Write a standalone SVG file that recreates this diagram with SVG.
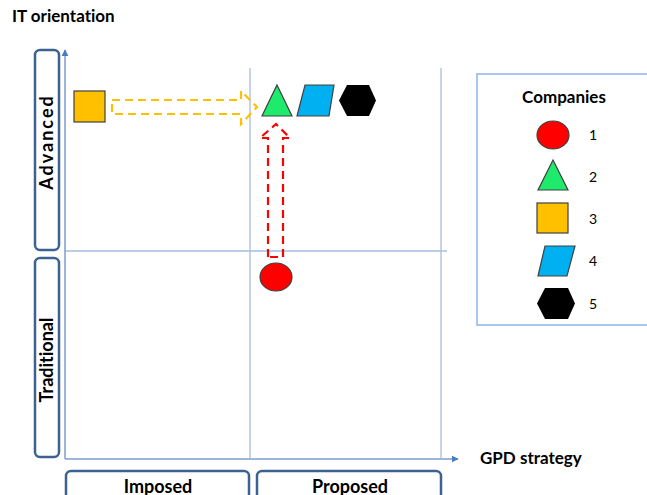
<svg xmlns="http://www.w3.org/2000/svg" width="647" height="495" viewBox="0 0 647 495">
  <style>
    text { font-family: Lato, "Open Sans", "Liberation Sans", sans-serif; fill: #000; font-variant-ligatures: none; }
    .title { font-size: 17px; font-weight: bold; }
    .cat { font-size: 18px; font-weight: bold; text-anchor: middle; }
    .num { font-size: 14px; }
    .catbox { fill: #fff; stroke: #3E6290; stroke-width: 2.5; }
    .axis { stroke: #7C9CCF; stroke-width: 1.5; fill: none; }
    .grid { stroke: #A9BCDD; stroke-width: 1.3; fill: none; }
    .shape { stroke: #404040; stroke-width: 1.2; }
  </style>
  <defs>
    <marker id="axisHead" viewBox="0 0 10 10" refX="9" refY="5" markerWidth="7" markerHeight="7" orient="auto" markerUnits="userSpaceOnUse">
      <path d="M0,0 L10,5 L0,10 Z" fill="#4A7CC4"/>
    </marker>
  </defs>

  <!-- quadrant grid -->
  <g id="grid">
    <line class="grid" x1="250" y1="68" x2="250" y2="458"/>
    <line class="grid" x1="441" y1="68" x2="441" y2="458"/>
    <line class="grid" x1="65" y1="251" x2="447" y2="251"/>
  </g>

  <!-- axes -->
  <g id="axes">
    <line class="axis" x1="65" y1="459" x2="65" y2="50" marker-end="url(#axisHead)"/>
    <line class="axis" x1="65" y1="459" x2="458" y2="459" marker-end="url(#axisHead)"/>
    <text class="title" x="12" y="22">IT orientation</text>
    <text class="title" x="480" y="464">GPD strategy</text>
  </g>

  <!-- category boxes -->
  <g id="cat-advanced">
    <rect class="catbox" x="35" y="50" width="24" height="200" rx="5"/>
    <text class="cat" letter-spacing="2" transform="translate(53,142) rotate(-90)">Advanced</text>
  </g>
  <g id="cat-traditional">
    <rect class="catbox" x="35" y="258" width="24" height="199" rx="5"/>
    <text class="cat" transform="translate(53,360) rotate(-90)">Traditional</text>
  </g>
  <g id="cat-imposed">
    <rect class="catbox" x="66" y="471" width="183" height="30" rx="5"/>
    <text class="cat" x="158" y="493">Imposed</text>
  </g>
  <g id="cat-proposed">
    <rect class="catbox" x="257" y="471" width="184" height="30" rx="5"/>
    <text class="cat" x="350" y="493">Proposed</text>
  </g>

  <!-- transitions -->
  <g id="connectors">
    <path d="M112,100 L241,100 L241,91 L257,107 L241,124 L241,114 L112,114 Z" fill="none" stroke="#FFC000" stroke-width="2.2" stroke-dasharray="8,5"/>
    <path d="M268,257 L268,138 L260,138 L276,124 L290,138 L283,138 L283,257 Z" fill="none" stroke="#FF0000" stroke-width="2.2" stroke-dasharray="8,5"/>
  </g>

  <!-- companies on the chart -->
  <g id="company-3">
    <rect class="shape" x="74" y="91" width="31" height="31" fill="#FFC000"/>
  </g>
  <g id="company-2">
    <polygon class="shape" points="277,85 292,116 262,116" fill="#1EEB6C"/>
  </g>
  <g id="company-4">
    <polygon class="shape" points="305,85 334,85 329,116 297,116" fill="#00B0F0"/>
  </g>
  <g id="company-5">
    <polygon points="347,85 369,85 376,100.5 369,116 347,116 339,100.5" fill="#000"/>
  </g>
  <g id="company-1">
    <ellipse class="shape" cx="276" cy="277" rx="16" ry="14" fill="#FF0000"/>
  </g>

  <!-- legend -->
  <g id="legend">
    <rect x="477" y="74" width="175" height="251" fill="#fff" stroke="#8DB3EE" stroke-width="1.5"/>
    <text class="title" x="564" y="103" text-anchor="middle">Companies</text>
    <ellipse class="shape" cx="553" cy="135" rx="16" ry="14" fill="#FF0000"/>
    <text class="num" x="589" y="140">1</text>
    <polygon class="shape" points="553,160 568,190 538,190" fill="#1EEB6C"/>
    <text class="num" x="589" y="182">2</text>
    <rect class="shape" x="537" y="203" width="31" height="30" fill="#FFC000"/>
    <text class="num" x="589" y="224">3</text>
    <polygon class="shape" points="545,246 575,246 567,276 538,276" fill="#00B0F0"/>
    <text class="num" x="589" y="266">4</text>
    <polygon points="545,288 568,288 575,303.5 568,319 545,319 537,303.5" fill="#000"/>
    <text class="num" x="589" y="309">5</text>
  </g>
</svg>
